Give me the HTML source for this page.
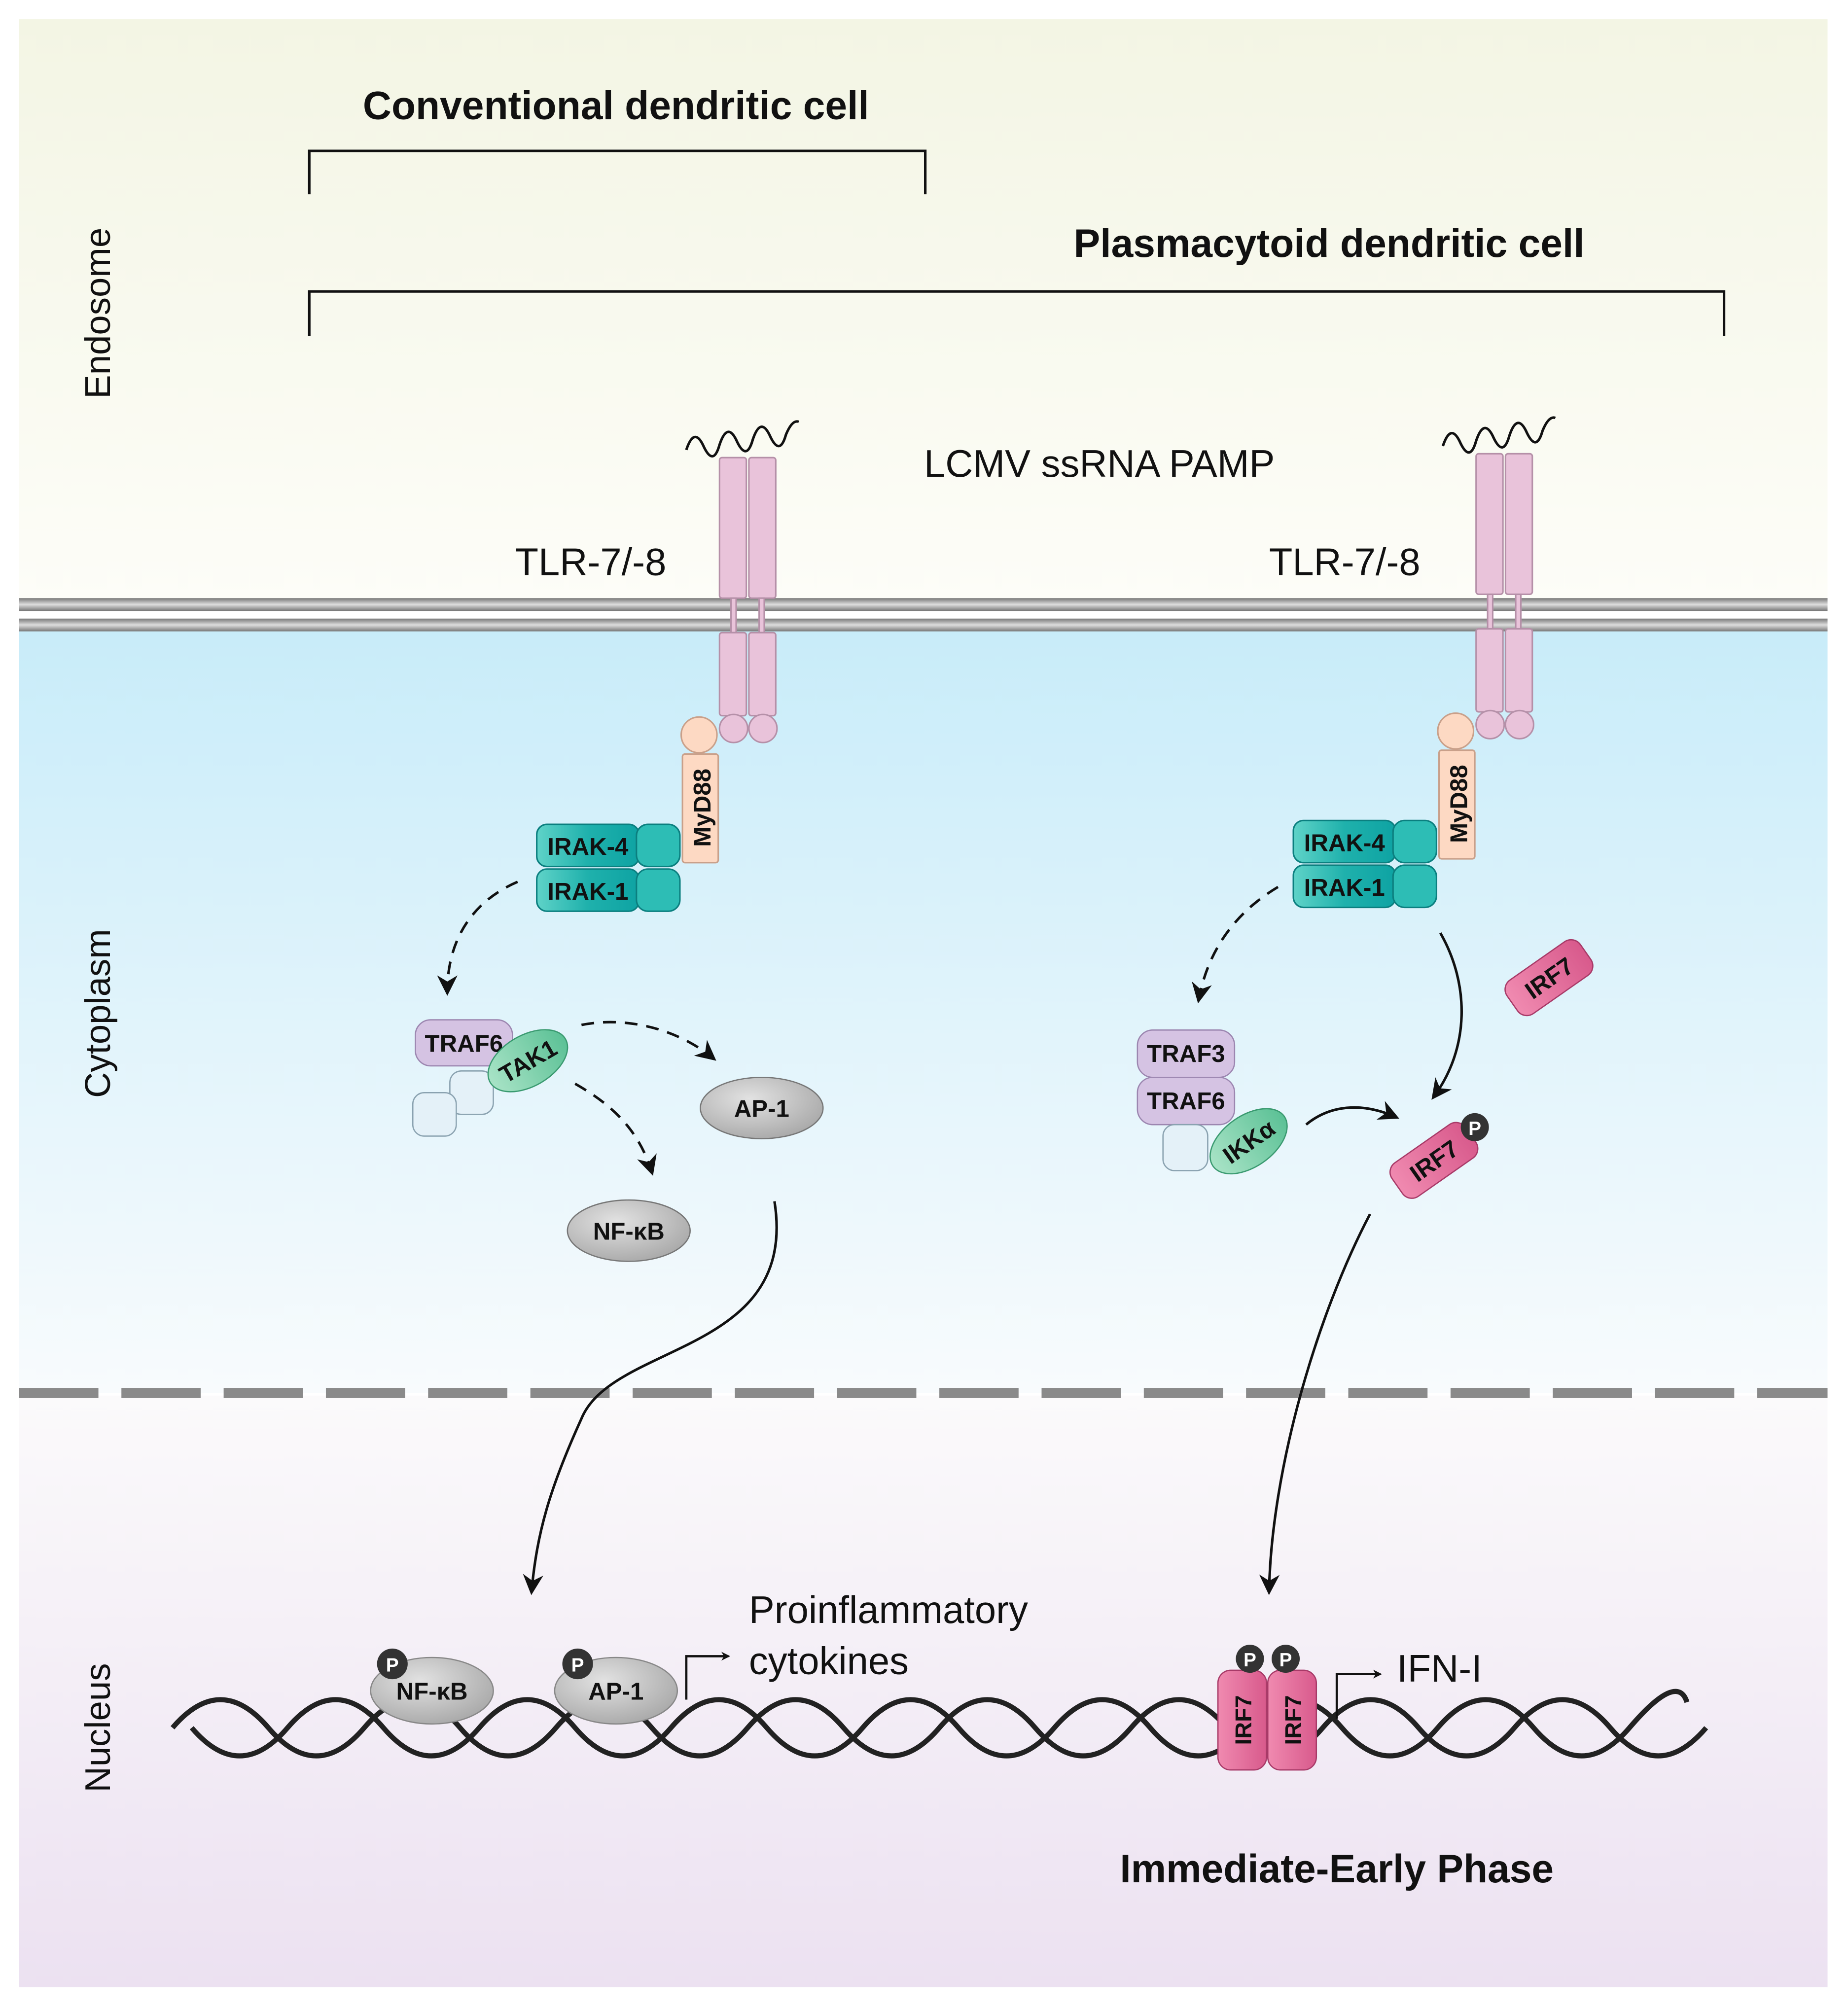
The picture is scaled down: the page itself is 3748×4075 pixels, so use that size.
<!DOCTYPE html>
<html><head><meta charset="utf-8"><style>html,body{margin:0;padding:0;background:#fff}svg{display:block}</style></head>
<body>
<svg width="3748" height="4075" viewBox="0 0 1446 1572" xmlns="http://www.w3.org/2000/svg" font-family="Liberation Sans, sans-serif">
<defs>
<linearGradient id="gTop" x1="0" y1="0" x2="0" y2="1"><stop offset="0" stop-color="#f3f5e4"/><stop offset="1" stop-color="#fdfdf8"/></linearGradient>
<linearGradient id="gCyt" x1="0" y1="0" x2="0" y2="1"><stop offset="0" stop-color="#c8ecf9"/><stop offset="1" stop-color="#f8fbfd"/></linearGradient>
<linearGradient id="gNuc" x1="0" y1="0" x2="0" y2="1"><stop offset="0" stop-color="#fbfafb"/><stop offset="1" stop-color="#ece1f1"/></linearGradient>
<linearGradient id="gMem" x1="0" y1="0" x2="0" y2="1"><stop offset="0" stop-color="#777"/><stop offset="0.5" stop-color="#ddd"/><stop offset="1" stop-color="#777"/></linearGradient>
<linearGradient id="gTeal" x1="0" y1="0" x2="1" y2="0"><stop offset="0" stop-color="#5fd3c8"/><stop offset="0.5" stop-color="#1fb1ac"/><stop offset="1" stop-color="#0ea3a3"/></linearGradient>
<radialGradient id="gGray" cx="0.4" cy="0.35" r="0.7"><stop offset="0" stop-color="#e2e2e2"/><stop offset="1" stop-color="#a8a8a8"/></radialGradient>
<linearGradient id="gPink" x1="0" y1="0" x2="1" y2="0"><stop offset="0" stop-color="#f08ab0"/><stop offset="1" stop-color="#d85a8c"/></linearGradient>
<linearGradient id="gGreen" x1="0" y1="0" x2="1" y2="0"><stop offset="0" stop-color="#a8e3c6"/><stop offset="1" stop-color="#5cc196"/></linearGradient>
<marker id="ah" viewBox="0 0 10 10" refX="8" refY="5" markerWidth="7" markerHeight="7" orient="auto" markerUnits="userSpaceOnUse"><path d="M0,0 L10,5 L0,10 L3,5 z" fill="#111"/></marker>
<marker id="ah2" viewBox="0 0 10 10" refX="8" refY="5" markerWidth="16" markerHeight="16" orient="auto" markerUnits="userSpaceOnUse"><path d="M0,0 L10,5 L0,10 L3,5 z" fill="#111"/></marker>
</defs>
<rect width="1446" height="1572" fill="#fff"/>
<rect x="15" y="15" width="1415" height="458" fill="url(#gTop)"/>
<rect x="15" y="490" width="1415" height="600" fill="url(#gCyt)"/>
<rect x="15" y="1092" width="1415" height="463" fill="url(#gNuc)"/>
<rect x="15" y="468" width="1415" height="10" fill="url(#gMem)"/>
<rect x="15" y="484" width="1415" height="10" fill="url(#gMem)"/>
<line x1="15" y1="1090" x2="1430" y2="1090" stroke="#8a8a8a" stroke-width="8" stroke-dasharray="62 18"/>

<g font-size="28" fill="#111">
<text transform="translate(86,245) rotate(-90)" text-anchor="middle">Endosome</text>
<text transform="translate(86,793) rotate(-90)" text-anchor="middle">Cytoplasm</text>
<text transform="translate(86,1352) rotate(-90)" text-anchor="middle">Nucleus</text>
</g>

<text x="482" y="93" font-size="31" font-weight="bold" text-anchor="middle" fill="#111">Conventional dendritic cell</text>
<path d="M242 152 V118 H724 V152" fill="none" stroke="#111" stroke-width="2"/>
<text x="1040" y="201" font-size="31" font-weight="bold" text-anchor="middle" fill="#111">Plasmacytoid dendritic cell</text>
<path d="M242 263 V228 H1349 V263" fill="none" stroke="#111" stroke-width="2"/>

<text x="723" y="373" font-size="30" fill="#111">LCMV ssRNA PAMP</text>
<text x="403" y="450" font-size="30" fill="#111">TLR-7/-8</text>
<text x="993" y="450" font-size="30" fill="#111">TLR-7/-8</text>

<g id="rec" stroke="#b590a8" stroke-width="1.2" fill="#e9c3da">
<path d="M537 352 q6 -18 13 -4 q8 18 13 0 q6 -18 13 -4 q8 18 13 0 q6 -18 13 -4 q8 18 13 0 q5 -12 10 -10" fill="none" stroke="#111" stroke-width="2"/>
<rect x="563" y="358" width="21" height="110" rx="2"/>
<rect x="586" y="358" width="21" height="110" rx="2"/>
<rect x="572" y="468" width="4" height="27"/>
<rect x="594" y="468" width="4" height="27"/>
<rect x="563" y="495" width="21" height="65" rx="2"/>
<rect x="586" y="495" width="21" height="65" rx="2"/>
<circle cx="574" cy="570" r="11"/>
<circle cx="597" cy="570" r="11"/>
<circle cx="547" cy="575" r="14" fill="#fdd9c3" stroke="#c9a08a"/>
<rect x="534" y="590" width="28" height="85" rx="2" fill="#fdd9c3" stroke="#c9a08a"/>
<text transform="translate(556,632) rotate(-90)" text-anchor="middle" font-size="19" font-weight="bold" fill="#111" stroke="none">MyD88</text>
<rect x="420" y="645" width="80" height="33" rx="8" fill="url(#gTeal)" stroke="#0b7f7f"/>
<rect x="498" y="645" width="34" height="33" rx="9" fill="#2dbdb5" stroke="#0b7f7f"/>
<rect x="420" y="680" width="80" height="33" rx="8" fill="url(#gTeal)" stroke="#0b7f7f"/>
<rect x="498" y="680" width="34" height="33" rx="9" fill="#2dbdb5" stroke="#0b7f7f"/>
<text x="460" y="669" text-anchor="middle" font-size="19" font-weight="bold" fill="#111" stroke="none">IRAK-4</text>
<text x="460" y="704" text-anchor="middle" font-size="19" font-weight="bold" fill="#111" stroke="none">IRAK-1</text>
</g>
<use href="#rec" transform="translate(592,-3)"/>

<path d="M405 690 C370 705 350 735 350 776" fill="none" stroke="#111" stroke-width="2" stroke-dasharray="10 7" marker-end="url(#ah2)"/>
<rect x="325" y="798" width="76" height="36" rx="12" fill="#d5c3e3" stroke="#9c86b0"/>
<text x="363" y="823" text-anchor="middle" font-size="19" font-weight="bold" fill="#111">TRAF6</text>
<rect x="352" y="838" width="34" height="34" rx="9" fill="#e4f1f8" stroke="#8aa2b0"/>
<rect x="323" y="855" width="34" height="34" rx="9" fill="#e4f1f8" stroke="#8aa2b0"/>
<g transform="translate(413,830) rotate(-30)"><ellipse rx="34" ry="20" fill="url(#gGreen)" stroke="#3a9a70"/><text y="7" text-anchor="middle" font-size="19" font-weight="bold" fill="#111">TAK1</text></g>
<path d="M455 802 C490 795 530 805 558 828" fill="none" stroke="#111" stroke-width="2" stroke-dasharray="10 7" marker-end="url(#ah2)"/>
<path d="M450 848 C480 865 500 885 510 917" fill="none" stroke="#111" stroke-width="2" stroke-dasharray="10 7" marker-end="url(#ah2)"/>
<ellipse cx="596" cy="867" rx="48" ry="24" fill="url(#gGray)" stroke="#777"/>
<text x="596" y="874" text-anchor="middle" font-size="19" font-weight="bold" fill="#111">AP-1</text>
<ellipse cx="492" cy="963" rx="48" ry="24" fill="url(#gGray)" stroke="#777"/>
<text x="492" y="970" text-anchor="middle" font-size="19" font-weight="bold" fill="#111">NF-κB</text>
<path d="M606 940 C625 1060 480 1050 455 1110 C430 1165 420 1200 416 1245" fill="none" stroke="#111" stroke-width="2" marker-end="url(#ah2)"/>

<path d="M1000 694 C965 715 945 745 938 782" fill="none" stroke="#111" stroke-width="2" stroke-dasharray="10 7" marker-end="url(#ah2)"/>
<rect x="890" y="806" width="76" height="37" rx="12" fill="#d5c3e3" stroke="#9c86b0"/>
<text x="928" y="831" text-anchor="middle" font-size="19" font-weight="bold" fill="#111">TRAF3</text>
<rect x="890" y="843" width="76" height="37" rx="12" fill="#d5c3e3" stroke="#9c86b0"/>
<text x="928" y="868" text-anchor="middle" font-size="19" font-weight="bold" fill="#111">TRAF6</text>
<rect x="910" y="880" width="35" height="36" rx="9" fill="#e4f1f8" stroke="#8aa2b0"/>
<g transform="translate(977,893) rotate(-35)"><ellipse rx="34" ry="20" fill="url(#gGreen)" stroke="#3a9a70"/><text y="7" text-anchor="middle" font-size="19" font-weight="bold" fill="#111">IKKα</text></g>
<path d="M1022 880 C1040 865 1065 862 1092 874" fill="none" stroke="#111" stroke-width="2" marker-end="url(#ah2)"/>
<path d="M1127 730 C1150 770 1150 820 1122 858" fill="none" stroke="#111" stroke-width="2" marker-end="url(#ah2)"/>
<g transform="translate(1212,765) rotate(-35)"><rect x="-35" y="-16" width="70" height="32" rx="9" fill="url(#gPink)" stroke="#a83a68"/><text y="7" text-anchor="middle" font-size="19" font-weight="bold" fill="#111">IRF7</text></g>
<g transform="translate(1122,908) rotate(-35)"><rect x="-35" y="-16" width="70" height="32" rx="9" fill="url(#gPink)" stroke="#a83a68"/><text y="7" text-anchor="middle" font-size="19" font-weight="bold" fill="#111">IRF7</text></g>
<circle cx="1154" cy="882" r="11" fill="#333"/><text x="1154" y="888" text-anchor="middle" font-size="15" font-weight="bold" fill="#fff">P</text>
<path d="M1072 950 C1030 1030 995 1150 993 1245" fill="none" stroke="#111" stroke-width="2" marker-end="url(#ah2)"/>

<g fill="none" stroke="#222" stroke-width="4">
<path d="M135 1352 q37.5 -44 75 0 t75 0 t75 0 t75 0 t75 0 t75 0 t75 0 t75 0 t75 0 t75 0 t75 0 t75 0 t75 0 t75 0 t75 0 t75 0"/>
<path d="M150 1352 q37.5 44 75 0 t75 0 t75 0 t75 0 t75 0 t75 0 t75 0 t75 0 t75 0 t75 0 t75 0 t75 0 t75 0 t75 0 t75 0 t45 -20"/>
</g>

<ellipse cx="338" cy="1323" rx="48" ry="26" fill="url(#gGray)" stroke="#888"/>
<text x="338" y="1330" text-anchor="middle" font-size="19" font-weight="bold" fill="#111">NF-κB</text>
<circle cx="307" cy="1302" r="12" fill="#333"/><text x="307" y="1308" text-anchor="middle" font-size="15" font-weight="bold" fill="#fff">P</text>
<ellipse cx="482" cy="1323" rx="48" ry="26" fill="url(#gGray)" stroke="#888"/>
<text x="482" y="1330" text-anchor="middle" font-size="19" font-weight="bold" fill="#111">AP-1</text>
<circle cx="452" cy="1302" r="12" fill="#333"/><text x="452" y="1308" text-anchor="middle" font-size="15" font-weight="bold" fill="#fff">P</text>
<path d="M537 1330 V1296 H570" fill="none" stroke="#111" stroke-width="1.8" marker-end="url(#ah)"/>
<text x="586" y="1270" font-size="30" fill="#111">Proinflammatory</text>
<text x="586" y="1310" font-size="30" fill="#111">cytokines</text>

<rect x="953" y="1307" width="38" height="78" rx="10" fill="url(#gPink)" stroke="#a83a68"/>
<rect x="992" y="1307" width="38" height="78" rx="10" fill="url(#gPink)" stroke="#a83a68"/>
<text transform="translate(979,1346) rotate(-90)" text-anchor="middle" font-size="18" font-weight="bold" fill="#111">IRF7</text>
<text transform="translate(1018,1346) rotate(-90)" text-anchor="middle" font-size="18" font-weight="bold" fill="#111">IRF7</text>
<circle cx="978" cy="1298" r="11" fill="#333"/><text x="978" y="1304" text-anchor="middle" font-size="15" font-weight="bold" fill="#fff">P</text>
<circle cx="1006" cy="1298" r="11" fill="#333"/><text x="1006" y="1304" text-anchor="middle" font-size="15" font-weight="bold" fill="#fff">P</text>
<path d="M1046 1345 V1310 H1080" fill="none" stroke="#111" stroke-width="1.8" marker-end="url(#ah)"/>
<text x="1093" y="1316" font-size="30" fill="#111">IFN-I</text>

<text x="1046" y="1473" font-size="31" font-weight="bold" text-anchor="middle" fill="#111">Immediate-Early Phase</text>
</svg>
</body></html>
